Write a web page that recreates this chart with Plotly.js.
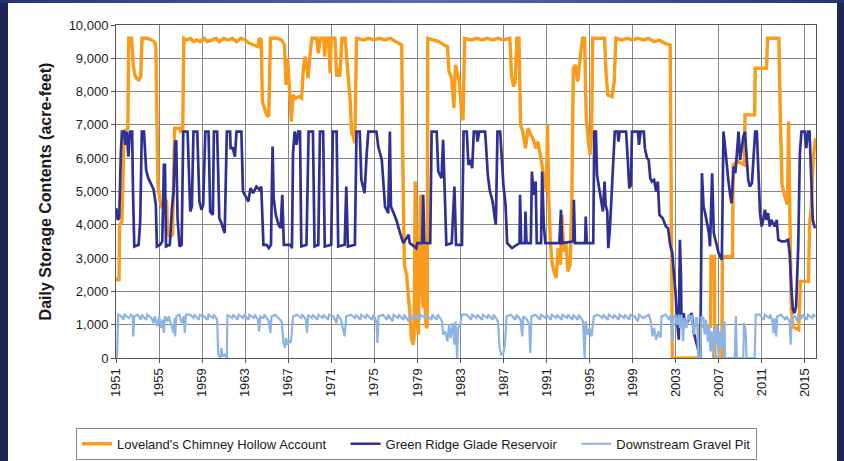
<!DOCTYPE html>
<html>
<head>
<meta charset="utf-8">
<script src="https://cdn.plot.ly/plotly-3.0.1.min.js"></script>
<style>
  html, body { margin: 0; padding: 0; width: 844px; height: 461px; overflow: hidden; background: #ffffff; }
  #leftbar { position: absolute; left: 0; top: 0; width: 8px; height: 461px; background: #1d2556; }
  #rightbar { position: absolute; left: 837px; top: 0; width: 7px; height: 461px; background: #1d2556; }
  #topbar { position: absolute; left: 0; top: 0; width: 844px; height: 3px; background: linear-gradient(to right, #26336f, #5a6cb0 50%, #26336f); }
  #chart { position: absolute; left: 0; top: 0; width: 844px; height: 461px; }
</style>
</head>
<body>
<div id="leftbar"></div>
<div id="rightbar"></div>
<div id="topbar"></div>
<div id="chart"></div>
<script>
// Series names
const seriesNames = ["Loveland's Chimney Hollow Account", "Green Ridge Glade Reservoir", "Downstream Gravel Pit"];

// X-axis tick labels (years)
const tickYears = [1951, 1955, 1959, 1963, 1967, 1971, 1975, 1979, 1983, 1987, 1991, 1995, 1999, 2003, 2007, 2011, 2015];

// Loveland's Chimney Hollow Account: [year, acre-feet]
const lovelandPts = [
[1951.00,2400],[1951.12,2350],[1951.28,2350],[1951.33,4000],[1951.55,4100],[1951.75,6800],[1952.1,6900],[1952.18,9600],
[1952.45,9600],[1952.6,8800],[1952.75,8500],[1952.9,8400],[1953.1,8350],[1953.3,8450],[1953.42,9600],[1953.9,9600],
[1954.3,9550],[1954.55,9500],[1954.7,9400],[1954.8,6500],[1954.9,5200],[1955.1,4700],[1955.3,4500],[1955.5,4800],
[1955.7,4700],[1955.8,3700],[1956.1,3650],[1956.25,3700],[1956.4,6800],[1956.45,6900],[1956.9,6900],[1957.0,6800],
[1957.2,6800],[1957.3,9600],[1957.6,9550],[1957.9,9600],[1958.2,9500],[1958.5,9550],[1958.8,9500],[1959.2,9600],
[1959.5,9500],[1959.9,9550],[1960.3,9600],[1960.6,9500],[1961.0,9600],[1961.4,9550],[1961.8,9600],[1962.2,9500],
[1962.6,9600],[1963.0,9550],[1963.4,9450],[1963.8,9400],[1964.2,9350],[1964.3,9600],[1964.5,9550],[1964.6,7700],
[1964.8,7500],[1965.0,7300],[1965.2,7250],[1965.35,9600],[1966.0,9600],[1966.4,9550],[1966.65,9400],[1966.8,8200],
[1966.95,9000],[1967.1,8200],[1967.3,7100],[1967.45,7900],[1967.7,7800],[1968.0,7850],[1968.25,7800],[1968.4,8650],
[1968.55,9050],[1968.7,8800],[1968.85,8400],[1969.0,9000],[1969.2,9600],[1969.65,9600],[1969.8,9150],[1970.0,9600],
[1970.3,9600],[1970.4,9050],[1970.5,9600],[1970.75,9600],[1970.9,8550],[1971.0,9600],[1971.35,9600],[1971.5,8450],
[1971.65,8700],[1971.8,8450],[1972.0,9600],[1972.3,9600],[1972.45,8800],[1972.6,8350],[1972.75,7800],[1972.9,6750],
[1973.05,6650],[1973.2,6450],[1973.35,9600],[1974.0,9550],[1974.5,9600],[1975.0,9550],[1975.5,9600],[1976.0,9550],
[1976.5,9600],[1977.0,9500],[1977.3,9450],[1977.55,9400],[1977.65,6000],[1977.8,2800],[1978.0,2500],[1978.15,2000],
[1978.3,1400],[1978.45,600],[1978.6,400],[1978.7,600],[1978.8,5300],[1978.9,3200],[1979.0,1000],[1979.1,700],
[1979.2,3000],[1979.3,4900],[1979.4,2400],[1979.55,1500],[1979.65,3400],[1979.75,1200],[1979.85,900],[1979.92,950],
[1979.97,9600],[1980.5,9550],[1981.0,9500],[1981.5,9400],[1981.8,9350],[1981.95,8600],[1982.2,8400],[1982.4,7500],
[1982.55,8800],[1982.7,8600],[1982.9,8300],[1983.15,7200],[1983.25,7150],[1983.4,9600],[1984.0,9550],[1984.5,9600],
[1985.0,9550],[1985.5,9600],[1986.0,9550],[1986.5,9600],[1987.0,9550],[1987.6,9600],[1987.75,8500],[1987.95,8150],
[1988.1,8300],[1988.25,9600],[1988.45,9600],[1988.6,7000],[1988.8,6800],[1989.05,6300],[1989.3,6900],[1989.55,6700],
[1989.8,6550],[1990.0,6300],[1990.2,6500],[1990.4,6150],[1990.7,5500],[1990.9,5200],[1991.0,5000],[1991.1,7000],
[1991.2,5000],[1991.35,3600],[1991.5,2900],[1991.7,2600],[1991.9,2400],[1992.1,3300],[1992.3,2800],[1992.45,4300],
[1992.6,3200],[1992.8,3500],[1993.0,2600],[1993.2,2800],[1993.35,4500],[1993.5,8700],[1993.7,8800],[1993.9,8300],
[1994.1,8900],[1994.35,9600],[1994.55,9600],[1994.7,7200],[1994.9,6500],[1995.05,6100],[1995.2,6800],[1995.3,9600],
[1995.9,9600],[1996.4,9600],[1996.55,8500],[1996.7,7900],[1997.1,7850],[1997.3,8300],[1997.45,9600],[1998.0,9550],
[1998.5,9600],[1999.0,9550],[1999.5,9600],[2000.0,9550],[2000.5,9600],[2001.0,9500],[2001.5,9550],[2002.0,9450],
[2002.5,9400],[2002.6,5000],[2002.7,0],[2005.2,0],[2005.25,950],[2006.25,950],[2006.3,3050],[2006.6,3050],
[2006.65,0],[2007.3,0],[2007.35,3050],[2008.3,3050],[2008.35,5800],[2008.8,5900],[2009.4,5800],[2009.45,7300],
[2010.35,7300],[2010.4,8700],[2011.45,8700],[2011.55,9600],[2012.6,9600],[2012.75,7000],[2012.9,5200],[2013.1,4900],
[2013.4,4600],[2013.5,7100],[2013.6,4000],[2013.75,1500],[2013.9,950],[2014.1,900],[2014.45,850],[2014.6,2300],
[2015.35,2300],[2015.45,4000],[2015.6,4500],[2015.8,6000],[2016.0,6600]
];

// Green Ridge Glade Reservoir: [year, acre-feet]
const greenRidgePts = [
[1951.0,4500],[1951.05,4450],[1951.15,4150],[1951.3,4200],[1951.45,6150],[1951.55,6800],[1951.75,6800],[1951.85,6400],
[1952.0,6800],[1952.15,6050],[1952.3,6800],[1952.5,6800],[1952.58,5000],[1952.7,3350],[1953.1,3400],[1953.25,4100],
[1953.4,6800],[1953.6,6800],[1953.8,5650],[1954.0,5400],[1954.3,5200],[1954.5,5050],[1954.7,4600],[1954.8,3350],
[1955.1,3400],[1955.3,3500],[1955.45,5800],[1955.55,5800],[1955.65,3350],[1956.0,3400],[1956.2,4500],[1956.35,5000],
[1956.5,6500],[1956.6,6500],[1956.72,4200],[1956.9,3350],[1957.1,3400],[1957.25,6800],[1957.65,6800],[1957.75,5600],
[1957.9,4400],[1958.05,4550],[1958.2,6800],[1958.55,6800],[1958.75,4700],[1958.95,4450],[1959.1,4600],[1959.3,6800],
[1959.6,6800],[1959.75,4400],[1960.0,4300],[1960.1,6800],[1960.4,6800],[1960.6,4200],[1960.8,4050],[1961.1,3750],
[1961.3,6800],[1961.6,6800],[1961.65,6300],[1961.85,6300],[1962.05,6050],[1962.2,6800],[1962.65,6800],[1962.8,5000],
[1963.1,4800],[1963.3,4700],[1963.5,5100],[1963.75,4950],[1964.05,5150],[1964.35,5050],[1964.5,5150],[1964.6,4200],
[1964.7,3400],[1965.0,3400],[1965.2,3300],[1965.4,3400],[1965.55,6350],[1965.65,4800],[1965.85,4300],[1966.1,4000],
[1966.3,3900],[1966.45,4900],[1966.6,3400],[1967.2,3400],[1967.35,3300],[1967.45,6150],[1967.6,6800],[1967.78,6400],
[1967.93,6800],[1968.1,6800],[1968.22,3350],[1968.7,3400],[1968.9,6800],[1969.3,6800],[1969.45,3350],[1969.8,3400],
[1969.95,6800],[1970.25,6800],[1970.4,3350],[1971.0,3400],[1971.15,6800],[1971.5,6800],[1971.65,3350],[1972.25,3400],
[1972.4,5150],[1972.55,3350],[1973.2,3400],[1973.35,6800],[1973.65,6800],[1973.8,5350],[1974.1,4950],[1974.3,6150],
[1974.45,6800],[1975.2,6800],[1975.37,6350],[1975.7,5950],[1976.0,4550],[1976.3,4350],[1976.45,6800],[1976.55,4550],
[1977.05,4150],[1977.4,3750],[1977.7,3450],[1978.2,3700],[1978.3,3450],[1978.9,3300],[1979.0,3450],[1979.45,3450],
[1979.55,4900],[1979.65,3450],[1980.2,3450],[1980.33,6800],[1980.8,6800],[1980.95,5600],[1981.25,5400],[1981.4,6550],
[1981.55,5200],[1981.7,3400],[1982.2,3450],[1982.45,5150],[1982.6,3400],[1983.15,3400],[1983.3,6800],[1983.6,6800],
[1983.75,5800],[1983.95,5950],[1984.1,5700],[1984.25,6800],[1984.5,6800],[1984.6,6500],[1984.75,6800],[1985.3,6800],
[1985.4,6300],[1985.55,5500],[1985.75,5000],[1986.0,4700],[1986.2,4200],[1986.3,4000],[1986.45,6800],[1986.7,6800],
[1986.85,6000],[1987.0,5200],[1987.2,4600],[1987.35,3450],[1987.8,3300],[1988.5,3450],[1988.55,4900],[1988.65,3450],
[1989.0,3450],[1989.05,4400],[1989.15,3450],[1989.55,3450],[1989.65,5600],[1989.8,4900],[1990.0,5300],[1990.1,3450],
[1990.5,3450],[1990.6,5600],[1990.75,4000],[1990.9,3450],[1992.2,3450],[1992.25,3950],[1992.35,4450],[1992.45,3450],
[1993.5,3500],[1993.55,4750],[1993.65,3450],[1994.6,3450],[1994.65,4250],[1994.75,3450],[1995.35,3450],[1995.45,6800],
[1995.6,6800],[1995.7,5500],[1995.9,5100],[1996.1,4800],[1996.25,4400],[1996.4,5300],[1996.5,4600],[1996.65,4400],
[1996.75,3300],[1996.9,3900],[1997.35,6800],[1997.6,6800],[1997.7,6500],[1997.8,6800],[1998.4,6800],[1998.55,6000],
[1998.7,5100],[1998.85,5200],[1998.95,6800],[1999.5,6800],[1999.6,6400],[1999.75,6800],[2000.05,6800],[2000.15,6300],
[2000.35,6000],[2000.5,5950],[2000.65,5400],[2000.8,5300],[2001.0,5350],[2001.2,5000],[2001.35,5300],[2001.5,4300],
[2001.8,4200],[2002.1,3950],[2002.3,3900],[2002.5,3400],[2002.7,3150],[2002.85,2500],[2003.0,1950],[2003.15,1100],
[2003.3,550],[2003.4,3550],[2003.5,2500],[2003.55,1150],[2003.75,1350],[2003.9,950],[2004.2,1150],[2004.5,1350],
[2004.7,750],[2004.85,550],[2005.15,150],[2005.3,0],[2005.45,5550],[2005.6,4550],[2005.75,4350],[2006.1,3750],
[2006.2,3350],[2006.4,5550],[2006.55,3750],[2006.7,3550],[2007.0,3150],[2007.3,2950],[2007.45,6800],[2007.6,6350],
[2007.75,5750],[2007.9,5350],[2008.05,4950],[2008.2,4650],[2008.4,5750],[2008.55,5550],[2008.7,6150],[2008.85,6800],
[2009.0,5950],[2009.15,6350],[2009.3,6650],[2009.45,6800],[2009.6,5950],[2009.75,5350],[2009.9,5150],[2010.1,5250],
[2010.25,6050],[2010.4,6800],[2010.55,6800],[2010.7,5650],[2010.85,4350],[2011.0,3950],[2011.15,4150],[2011.3,4450],
[2011.45,4150],[2011.6,4350],[2011.75,3950],[2011.9,4150],[2012.2,3950],[2012.4,4150],[2012.55,3550],[2012.85,3500],
[2013.15,3500],[2013.45,3550],[2013.6,3150],[2013.75,2150],[2013.9,1450],[2014.05,1350],[2014.2,1550],[2014.4,3350],
[2014.55,6150],[2014.7,6800],[2015.0,6800],[2015.15,6300],[2015.3,6800],[2015.45,6800],[2015.6,5650],[2015.75,4150],
[2015.9,3950],[2016.0,3900]
];

// Downstream Gravel Pit: [year, acre-feet]
const gravelPitPts = [
[1951.0,0],[1951.1,50],[1951.2,1300],[1951.5,1250],[1951.7,1150],[1951.8,1300],[1952.2,1200],[1952.4,1300],
[1952.55,1250],[1952.6,650],[1952.7,1250],[1953.0,1300],[1953.3,1150],[1953.4,1300],[1953.8,1150],[1953.9,1300],
[1954.3,1200],[1954.5,1050],[1954.6,1250],[1954.85,950],[1955.0,1250],[1955.2,900],[1955.35,1150],[1955.45,750],
[1955.55,1250],[1955.8,1100],[1955.9,1250],[1956.2,950],[1956.35,750],[1956.45,1200],[1956.5,650],[1956.6,1250],
[1956.9,1300],[1957.1,1050],[1957.3,1250],[1957.4,750],[1957.5,1300],[1957.9,1300],[1958.2,1200],[1958.3,1300],
[1958.7,1150],[1958.8,1300],[1959.2,1250],[1959.5,1150],[1959.6,1300],[1960.0,1200],[1960.1,1300],[1960.4,1150],
[1960.5,100],[1960.7,0],[1960.8,300],[1960.9,50],[1961.1,100],[1961.3,0],[1961.35,1300],[1961.8,1200],
[1961.9,1300],[1962.3,1150],[1962.4,1300],[1962.8,1200],[1962.9,1300],[1963.3,1150],[1963.4,1300],[1963.8,1200],
[1963.9,1300],[1964.2,1150],[1964.3,800],[1964.4,1250],[1964.7,1200],[1964.8,1300],[1965.2,1100],[1965.35,750],
[1965.45,1250],[1965.8,1300],[1966.1,1200],[1966.4,1100],[1966.55,500],[1966.7,300],[1966.8,600],[1966.95,400],
[1967.1,500],[1967.25,450],[1967.45,1250],[1967.8,1300],[1968.2,1200],[1968.3,1300],[1968.65,1150],[1968.75,750],
[1968.85,1300],[1969.2,1200],[1969.3,1300],[1969.7,1150],[1969.8,1300],[1970.2,1200],[1970.3,1300],[1970.7,1150],
[1970.8,1300],[1971.2,1250],[1971.5,1050],[1971.6,1300],[1971.9,1150],[1972.1,800],[1972.25,650],[1972.4,1250],
[1972.8,1300],[1973.2,1200],[1973.3,1300],[1973.7,1150],[1973.8,1300],[1974.2,1200],[1974.3,1300],[1974.8,1150],
[1974.9,1300],[1975.2,1100],[1975.3,450],[1975.4,1250],[1975.8,1300],[1976.2,1150],[1976.3,1300],[1976.7,1100],
[1976.8,1300],[1977.2,1200],[1977.3,1300],[1977.7,1150],[1977.8,1300],[1978.2,1100],[1978.3,1300],[1978.7,1150],
[1978.8,1300],[1979.2,1150],[1979.3,1300],[1979.7,1200],[1979.8,1300],[1980.3,1150],[1980.4,1300],[1980.8,1150],
[1980.9,1300],[1981.3,1100],[1981.4,700],[1981.6,800],[1981.8,500],[1981.95,1000],[1982.1,600],[1982.3,1050],
[1982.45,400],[1982.55,1100],[1982.7,0],[1982.8,900],[1983.0,1000],[1983.15,1300],[1983.6,1300],[1984.0,1150],
[1984.1,1300],[1984.5,1200],[1984.6,1300],[1985.0,1150],[1985.1,1300],[1985.5,1200],[1985.6,1300],[1986.0,1150],
[1986.1,1300],[1986.5,1100],[1986.65,300],[1986.8,100],[1987.0,150],[1987.15,400],[1987.3,1250],[1987.7,1300],
[1988.1,1150],[1988.2,1300],[1988.6,1150],[1988.75,650],[1988.85,1250],[1989.2,1150],[1989.4,1000],[1989.5,150],
[1989.6,1250],[1990.0,1300],[1990.4,1150],[1990.5,1300],[1990.9,1200],[1991.0,1300],[1991.4,1150],[1991.5,1300],
[1991.9,1200],[1992.0,1300],[1992.4,1150],[1992.5,1300],[1992.9,1200],[1993.0,1300],[1993.4,1150],[1993.5,1300],
[1993.9,1150],[1994.0,1300],[1994.4,1100],[1994.55,0],[1994.65,1100],[1994.8,700],[1995.0,900],[1995.2,650],
[1995.4,1250],[1995.8,1300],[1996.2,1200],[1996.3,1300],[1996.7,1150],[1996.8,1300],[1997.2,1200],[1997.3,1300],
[1997.7,1150],[1997.8,1300],[1998.2,1200],[1998.3,1300],[1998.7,1150],[1998.8,1300],[1999.2,1250],[1999.5,1100],
[1999.6,1300],[2000.0,1200],[2000.5,1300],[2000.7,1100],[2000.85,650],[2001.0,900],[2001.2,550],[2001.4,800],
[2001.6,600],[2001.7,1250],[2002.1,1300],[2002.4,1150],[2002.55,1300],[2002.7,500],[2002.8,1200],[2003.0,1300],
[2003.15,1000],[2003.3,1300],[2003.4,900],[2003.55,1300],[2003.7,500],[2003.8,1200],[2004.0,900],[2004.2,1300],
[2004.4,1100],[2004.5,1300],[2004.7,700],[2004.9,1200],[2005.0,1200],[2005.1,0],[2005.3,0],[2005.4,1250],
[2005.6,1200],[2005.7,700],[2005.85,1150],[2006.0,500],[2006.1,1000],[2006.25,200],[2006.35,800],[2006.5,0],
[2006.6,900],[2006.75,400],[2006.85,1000],[2007.0,0],[2007.1,800],[2007.25,300],[2007.4,1000],[2007.5,0],
[2007.55,1100],[2007.6,0],[2008.5,0],[2008.6,1250],[2008.7,0],[2009.3,0],[2009.35,1050],[2009.5,850],
[2009.6,0],[2010.35,0],[2010.45,1300],[2010.8,1300],[2011.2,1150],[2011.3,1300],[2011.7,1200],[2011.8,1300],
[2012.0,1100],[2012.1,750],[2012.2,1200],[2012.35,650],[2012.45,1250],[2012.8,1300],[2013.2,1150],[2013.3,1250],
[2013.6,1100],[2013.7,400],[2013.8,1200],[2014.1,1250],[2014.3,1100],[2014.4,1300],[2014.7,1200],[2014.8,1300],
[2015.2,1150],[2015.3,1300],[2015.7,1200],[2015.8,1300],[2016.0,1250]
];

const seriesColors = ['#F99C1C', '#2E3192', '#8DB4E2'];
const seriesWidths = [3.4, 2.7, 2.2];
const allPts = [lovelandPts, greenRidgePts, gravelPitPts];

const FONT = '"Liberation Sans", Arial, sans-serif';
// trailing non-breaking spaces widen the gap after the first two legend entries
const legendPads = ['&nbsp;&nbsp;&nbsp;&nbsp;', '&nbsp;&nbsp;&nbsp;&nbsp;', ''];

const traces = allPts.map((pts, i) => ({
  type: 'scatter',
  mode: 'lines',
  name: seriesNames[i] + legendPads[i],
  x: pts.map(p => p[0]),
  y: pts.map(p => p[1]),
  line: { color: seriesColors[i], width: seriesWidths[i] },
  hoverinfo: 'skip'
}));

const layout = {
  width: 844,
  height: 461,
  paper_bgcolor: 'rgba(0,0,0,0)',
  plot_bgcolor: '#ffffff',
  margin: { l: 116, r: 28, t: 25, b: 103 },
  font: { family: FONT, size: 13, color: '#1a1a1a' },
  showlegend: true,
  legend: {
    orientation: 'h',
    xref: 'container', yref: 'container',
    x: 0.09, xanchor: 'left',
    y: 0.072, yanchor: 'top',
    bordercolor: '#8a8a8a', borderwidth: 1,
    bgcolor: '#ffffff',
    font: { family: FONT, size: 13, color: '#1a1a1a' },
    itemwidth: 30
  },
  xaxis: {
    automargin: false,
    range: [1951, 2016.05],
    tickmode: 'array',
    tickvals: tickYears,
    ticktext: tickYears.map(String),
    tickangle: -90,
    showgrid: true,
    gridcolor: '#868686',
    gridwidth: 1,
    showline: true,
    linecolor: '#555555',
    linewidth: 1,
    mirror: true,
    ticks: 'outside',
    ticklen: 4,
    tickcolor: '#555555',
    zeroline: false,
    tickfont: { family: FONT, size: 13, color: '#1a1a1a' }
  },
  yaxis: {
    automargin: false,
    range: [0, 10000],
    dtick: 1000,
    tick0: 0,
    tickformat: ',d',
    showgrid: true,
    gridcolor: '#868686',
    gridwidth: 1,
    showline: true,
    linecolor: '#555555',
    linewidth: 1,
    mirror: true,
    ticks: 'outside',
    ticklen: 4,
    tickcolor: '#555555',
    zeroline: false,
    tickfont: { family: FONT, size: 13, color: '#1a1a1a' },
    title: {
      text: 'Daily Storage Contents (acre-feet)',
      font: { family: FONT, size: 16, color: '#1a1a1a', weight: 'bold' },
      standoff: 13
    }
  }
};

Plotly.newPlot('chart', traces, layout, { staticPlot: true, displayModeBar: false });
</script>
</body>
</html>
